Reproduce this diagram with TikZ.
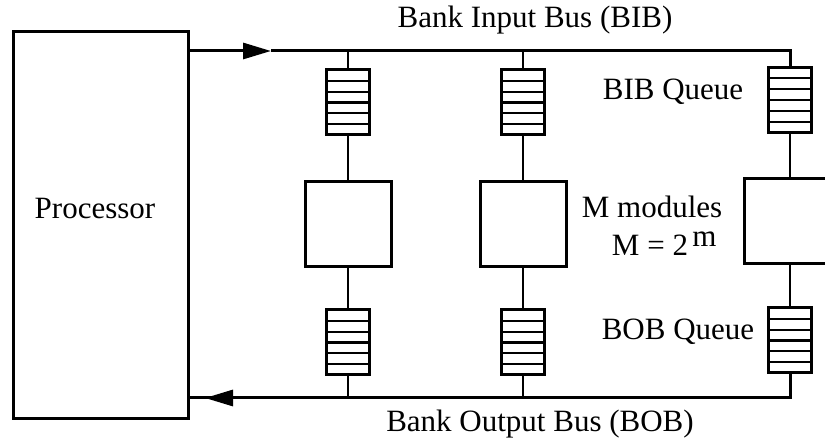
\documentclass[tikz,border=0pt]{standalone}
\usepackage{fontspec}
\setmainfont{Liberation Serif}
\usetikzlibrary{arrows.meta,calc}
\tikzset{
  lbl/.style={inner sep=0pt, font=\fontsize{31}{33}\selectfont},
  bus/.style={line width=3pt, line join=miter},
  wire/.style={line width=2.6pt},
  box/.style={draw, line width=3pt, inner sep=0pt},
  queue/.style={draw, line width=3pt, inner sep=0pt, minimum width=43pt, minimum height=65pt,
    path picture={\foreach \i in {1,...,5}{
      \draw[line width=2.2pt] ($(path picture bounding box.north west)!\i/6!(path picture bounding box.south west)$) --
                              ($(path picture bounding box.north east)!\i/6!(path picture bounding box.south east)$);}}},
  tip/.style={-{Triangle[length=28pt,width=16pt]}}
}
\begin{document}
\begin{tikzpicture}[x=1pt,y=-1pt]
\useasboundingbox (0,0) rectangle (825,443);
% processor
\node[box, minimum width=175pt, minimum height=387pt] (proc) at (100.5,225) {};
\node[lbl] (ptext) at (95,209) {Processor};
% top queues
\node[queue] (q1) at (348,102.5) {};
\node[queue] (q2) at (523,102.5) {};
\node[queue] (q3) at (790,100) {};
% modules
\node[box, minimum width=86pt, minimum height=85pt] (m1) at (348,224) {};
\node[box, minimum width=86pt, minimum height=85pt] (m2) at (523,224) {};
\node[box, minimum width=92pt, minimum height=85pt] (m3) at (790,221) {};
% bottom queues
\node[queue] (b1) at (348,342.5) {};
\node[queue] (b2) at (523,342.5) {};
\node[queue] (b3) at (790,340.5) {};
% bus coordinates
\coordinate (tbus) at (0,51);
\coordinate (ttip) at (271,51);
\coordinate (bbus) at (0,398);
\coordinate (btip) at (205,398);
\coordinate (bbase) at (238,398);
% top bus
\draw[bus,tip] (proc.east |- tbus) -- (ttip);
\draw[bus] (ttip) -- (tbus -| q3.north) -- (q3.north);
\draw[wire] (q1.north) -- (q1.north |- tbus);
\draw[wire] (q2.north) -- (q2.north |- tbus);
% queue-module links
\foreach \n in {1,2,3}{
  \draw[wire] (q\n.south) -- (m\n.north);
  \draw[wire] (m\n.south) -- (b\n.north);
}
% bottom bus
\draw[bus] (b3.south) |- (btip) -- (proc.east |- btip);
\draw[bus,tip] (bbase) -- (btip);
\draw[wire] (b1.south) -- (b1.south |- bbus);
\draw[wire] (b2.south) -- (b2.south |- bbus);
% labels
\node[lbl] (bib) at (535,20) {Bank Input Bus (BIB)};
\node[lbl] (bibq) at (673,92) {BIB Queue};
\node[lbl] (mmod) at (652,207) {M modules};
\node[lbl] (meq) at (650,245) {M = 2};
\node[lbl, anchor=base west] (msup) at ([xshift=4pt,yshift=9pt]meq.base east) {m};
\node[lbl] (bobq) at (678,332) {BOB Queue};
\node[lbl] (bob) at (540,424) {Bank Output Bus (BOB)};
\end{tikzpicture}
\end{document}
